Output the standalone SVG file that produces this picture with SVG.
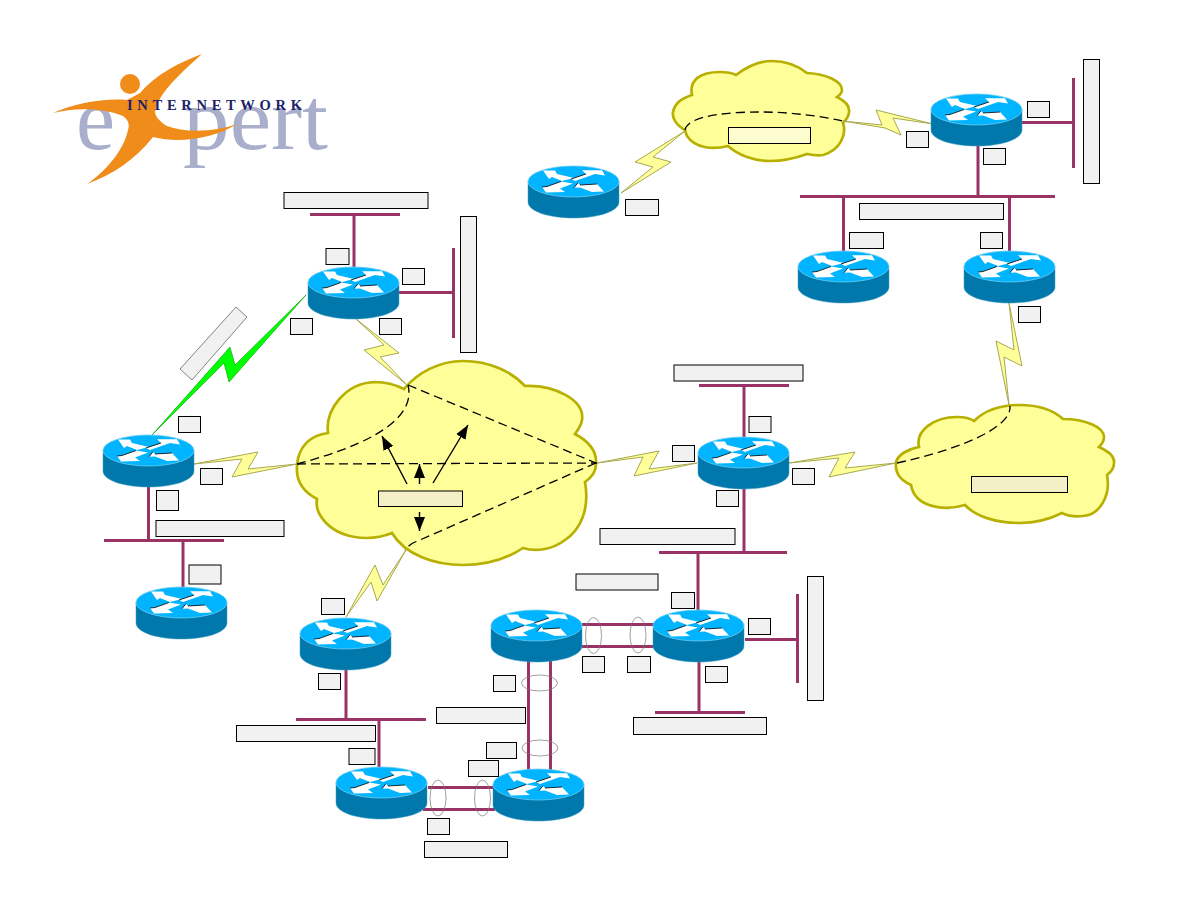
<svg xmlns="http://www.w3.org/2000/svg" xmlns:xlink="http://www.w3.org/1999/xlink" width="1188" height="918" viewBox="0 0 1188 918">
<style>
.eth{stroke:#993366;stroke-width:3;fill:none}
.cloud{fill:#ffff99;stroke:#b8b000;stroke-width:2.7;stroke-linejoin:miter}
.bolt{fill:#ffff99;stroke:#a8a850;stroke-width:1}
.dash{fill:none;stroke:#000;stroke-width:1.3;stroke-dasharray:9 5}
.lbl{fill:#f1f1f1;stroke:#000;stroke-width:1}
.lblp{fill:#f3efc6;stroke:#000;stroke-width:1}
.ring{fill:none;stroke:#777;stroke-width:.7}
.ptr{stroke:#000;stroke-width:1.4;fill:none;marker-end:url(#head)}
.logo{font-family:"Liberation Serif","Times New Roman",serif}
</style>
<defs>
<marker id="head" markerUnits="userSpaceOnUse" markerWidth="16" markerHeight="12" refX="14" refY="5.500" orient="auto">
<path d="M0 0L14 5.500L0 11Z" fill="#000"/>
</marker>
<g id="router">
<path d="M0 15.500V36C0 45 20 52 45.500 52S91 45 91 36V15.500Z" fill="#0078ab" stroke="#3f9cc4" stroke-width=".5"/>
<ellipse cx="45.500" cy="15.500" rx="45.500" ry="15.500" fill="#00b4ff" stroke="#6fcdf0" stroke-width=".8"/>
<g fill="#fff">
<path d="M15 4.500H27L29 8L46 12L34 15L24 11L21 13Z"/>
<path d="M54 4.300H74L77 9.500L67 8L47 15L43 13L58 8Z"/>
<path d="M14 21L18 26.500L37 26L32 22.500L45 17.500L33 15.500L19 20.500Z"/>
<path d="M46 21.700L50 16.700L52 19L69 18L76 25.500L64 26L52 21.500Z"/>
</g>
<path d="M43 13L58 8M14 21L19 20.500L33 15.500M46 21.700L50 16.700M52 19L69 18" fill="none" stroke="#000" stroke-width=".8"/>
</g>
</defs>
<rect width="1188" height="918" fill="#fff"/>

<!-- company mark -->
<g id="logo">
<text class="logo" x="76" y="149" font-size="88" fill="#a9aecb">e</text>
<text class="logo" x="183" y="149" font-size="88" fill="#a9aecb" textLength="145" lengthAdjust="spacingAndGlyphs">pert</text>
<circle cx="130" cy="84" r="10" fill="#f08c1a"/>
<path d="M202 54C180 62 155 75 140 93L127 100C105 98 75 103 53 113C75 107 105 108 123 116C128 120 130 124 128 130C124 150 105 172 87 184C112 175 135 160 153 137C180 144 215 138 237 124C215 132 185 133 167 126C160 122 155 116 155 112C158 95 175 78 202 54Z" fill="#f08c1a"/>
<text class="logo" x="127" y="110" font-size="14.500" font-weight="bold" fill="#1c2266" textLength="175">INTERNETWORK</text>
</g>

<!-- connectors: LAN segments and trunks -->
<g id="connectors">
<path class="eth" d="M310 214.500H400M354 214.500V267M399 292.500H453.500M453.500 248V338"/>
<path class="eth" d="M148.500 487V540.500M104 540.500H224M183 540.500V587"/>
<path class="eth" d="M346 668V719.500M296 719.500H426M379 719.500V767"/>
<path class="eth" d="M428 787.500H494M423 809.500H495"/>
<path class="eth" d="M528.500 661V770M550.500 661V770"/>
<path class="eth" d="M582 624.500H654M582 646.500H654"/>
<path class="eth" d="M699 385.500H789M744 385.500V437M744 488V552.500M659 552.500H787M698 552.500V610"/>
<path class="eth" d="M745 639.500H797.500M797.500 594V683M699 662V712.500M655 712.500H745"/>
<path class="eth" d="M978 145V196.500M800 196.500H1055M843.500 196.500V251M1009.500 196.500V251M1022 122.500H1073.500M1073.500 78V168"/>
<ellipse class="ring" cx="593.500" cy="635.500" rx="8" ry="18"/>
<ellipse class="ring" cx="638" cy="635" rx="8" ry="18"/>
<ellipse class="ring" cx="539.500" cy="683" rx="18" ry="8"/>
<ellipse class="ring" cx="540" cy="748" rx="18" ry="8"/>
<ellipse class="ring" cx="438" cy="798" rx="8" ry="18"/>
<ellipse class="ring" cx="482.500" cy="798" rx="8" ry="18"/>
</g>

<!-- provider clouds -->
<path id="cloud-main" class="cloud" d="M404 389C418 372 440 361 463 361C490 361 512 372 525 386C555 385 585 400 582 420C581 426 578 430 575 434C590 442 597 452 596 464C596 472 591 478 585 482C590 510 580 530 565 540C552 550 535 552 523 548C505 560 485 565 463 565C435 565 405 555 392 533C370 542 335 540 320 515C317 510 316 505 317 499C300 490 296 478 297 466C298 445 312 435 328 433C325 410 345 383 375 382C385 382 396 385 404 389Z"/>
<path id="cloud-top" class="cloud" d="M736 75C748 66 760 61 772 61C786 61 798 66 807 73C826 74 842 81 842 90C842 93 840 95 837 97C845 101 850 106 849 112C849 116 846 120 843 123C847 135 840 150 823 155C817 156 812 155 807 154C796 158 785 161 770 161C752 161 737 154 728 146C712 150 695 148 687 136C686 133 685 131 685 130C676 125 672 118 673 112C675 102 683 98 692 95C689 80 700 72 720 72C727 72 732 73 736 75Z"/>
<path id="cloud-right" class="cloud" d="M974 421C985 410 1002 405 1020 405C1038 405 1053 410 1063 419C1085 419 1104 427 1104 437C1104 441 1102 444 1099 447C1108 451 1115 456 1114 463C1114 468 1111 472 1107 475C1111 495 1100 515 1083 516C1075 517 1068 516 1062 513C1050 519 1035 523 1020 523C995 523 975 516 965 505C945 511 915 508 911 485C900 480 895 472 896 463C897 455 908 449 919 447C915 430 935 417 957 417C964 417 970 418 974 421Z"/>

<!-- serial links -->
<g id="serial-links">
<polygon points="152,435 230,347 235,365 306,295 229,382 224,363" fill="#00ff00" stroke="#009a00" stroke-width=".6"/>
<polygon class="bolt" points="194,464 258,452 248,469 297,464 232,477 242,459"/>
<polygon class="bolt" points="356,319 399,353 380,357 407,385 364,350 384,345"/>
<polygon class="bolt" points="346,617 375,565 383,585 406,550 377,601 371,582"/>
<polygon class="bolt" points="597,463 659,451 649,469 697,463 634,476 643,457"/>
<polygon class="bolt" points="789,463 855,452 845,468 896,463 829,477 839,458"/>
<polygon class="bolt" points="621,193 671,162 653,157 685,131 635,162 653,167"/>
<polygon class="bolt" points="843,121 882,125 876,110 933,124 893,118 901,135 885,128"/>
<polygon class="bolt" points="1009,303 1022,366 1004,357 1009,405 996,341 1014,350"/>
</g>

<!-- virtual circuits through the clouds -->
<g id="virtual-circuits">
<path class="dash" d="M297 464C350 450 418 425 408 385"/>
<path class="dash" d="M297 464L597 463"/>
<path class="dash" d="M408 385L596 463"/>
<path class="dash" d="M596 463L413 543Q408 546 405 550"/>
<path class="dash" d="M897 463C970 447 1012 425 1010 406"/>
<path class="dash" d="M685 130C688 115 730 112 760 112C790 112 820 116 843 121"/>
</g>

<!-- pointers from the hub label -->
<g id="hub-pointers">
<path class="ptr" d="M407 484L382 436"/>
<path class="ptr" d="M419.500 484V464"/>
<path class="ptr" d="M433 483L468 425"/>
<path class="ptr" d="M419.500 512V531"/>
</g>

<!-- routers -->
<use id="r-a" href="#router" x="308" y="267"/>
<use id="r-b" href="#router" x="103" y="435"/>
<use id="r-c" href="#router" x="136" y="587"/>
<use id="r-d" href="#router" x="300" y="618"/>
<use id="r-e" href="#router" x="491" y="610"/>
<use id="r-f" href="#router" x="653" y="610"/>
<use id="r-g" href="#router" x="336" y="767"/>
<use id="r-h" href="#router" x="493" y="769"/>
<use id="r-i" href="#router" x="698" y="437"/>
<use id="r-j" href="#router" x="528" y="166"/>
<use id="r-k" href="#router" x="931" y="94"/>
<use id="r-l" href="#router" x="798" y="251"/>
<use id="r-m" href="#router" x="964" y="251"/>

<!-- address plates -->
<g id="plates">
<rect class="lbl" x="284" y="192.500" width="144" height="16"/>
<rect class="lbl" x="326" y="248.500" width="23" height="16"/>
<rect class="lbl" x="402.500" y="268.500" width="22" height="16"/>
<rect class="lbl" x="290.500" y="318.500" width="22" height="16"/>
<rect class="lbl" x="379.500" y="318.500" width="22" height="16"/>
<rect class="lbl" x="460.500" y="216.500" width="16" height="136"/>
<polygon points="236,307 247,317 192,380 180,369" fill="#f1f1f1" stroke="#666" stroke-width=".8"/>
<rect class="lbl" x="178.500" y="416.500" width="22" height="16"/>
<rect class="lbl" x="200.500" y="468.500" width="22" height="16"/>
<rect class="lbl" x="156.500" y="490.500" width="22" height="20"/>
<rect class="lbl" x="156" y="520.500" width="128" height="16"/>
<rect class="lbl" x="189" y="565" width="32" height="19"/>
<rect class="lbl" x="321.500" y="598.500" width="23" height="16"/>
<rect class="lbl" x="318.500" y="673.500" width="22" height="16"/>
<rect class="lbl" x="436.500" y="707.500" width="89" height="16"/>
<rect class="lbl" x="236.500" y="725.500" width="139" height="16"/>
<rect class="lbl" x="349" y="748.500" width="26" height="16"/>
<rect class="lbl" x="493.500" y="675.500" width="22" height="16"/>
<rect class="lbl" x="582.500" y="656.500" width="22" height="16"/>
<rect class="lbl" x="627.500" y="656.500" width="23" height="16"/>
<rect class="lbl" x="486.500" y="742.500" width="30" height="16"/>
<rect class="lbl" x="468.500" y="760.500" width="30" height="16"/>
<rect class="lbl" x="427.500" y="818.500" width="22" height="16"/>
<rect class="lbl" x="424.500" y="841.500" width="83" height="16"/>
<rect class="lbl" x="576" y="574" width="82" height="16"/>
<rect class="lbl" x="600" y="528.500" width="135" height="16"/>
<rect class="lbl" x="671.500" y="592.500" width="23" height="16"/>
<rect class="lbl" x="748.500" y="618.500" width="22" height="16"/>
<rect class="lbl" x="705.500" y="666.500" width="22" height="16"/>
<rect class="lbl" x="633.500" y="717.500" width="133" height="17"/>
<rect class="lbl" x="807.500" y="576.500" width="16" height="124"/>
<rect class="lbl" x="716.500" y="490.500" width="22" height="16"/>
<rect class="lbl" x="792.500" y="468.500" width="22" height="16"/>
<rect class="lbl" x="672.500" y="445.500" width="22" height="16"/>
<rect class="lbl" x="749" y="416.500" width="22" height="16"/>
<rect class="lbl" x="674" y="365" width="129" height="16"/>
<rect class="lbl" x="625.500" y="199.500" width="33" height="16"/>
<rect x="728.500" y="127.500" width="82" height="16" fill="#fdfdd0" stroke="#000"/>
<rect class="lbl" x="906.500" y="131.500" width="22" height="16"/>
<rect class="lbl" x="1027.500" y="101.500" width="22" height="16"/>
<rect class="lbl" x="983.500" y="148.500" width="22" height="16"/>
<rect class="lbl" x="1083.500" y="59.500" width="16" height="124"/>
<rect class="lbl" x="859.500" y="203.500" width="144" height="16"/>
<rect class="lbl" x="849.500" y="232.500" width="34" height="16"/>
<rect class="lbl" x="980.500" y="232.500" width="22" height="16"/>
<rect class="lbl" x="1018.500" y="306.500" width="22" height="16"/>
<rect class="lblp" x="971.500" y="476.500" width="96" height="16"/>
<rect class="lblp" x="378.500" y="491" width="84" height="15.500"/>
</g>
</svg>
